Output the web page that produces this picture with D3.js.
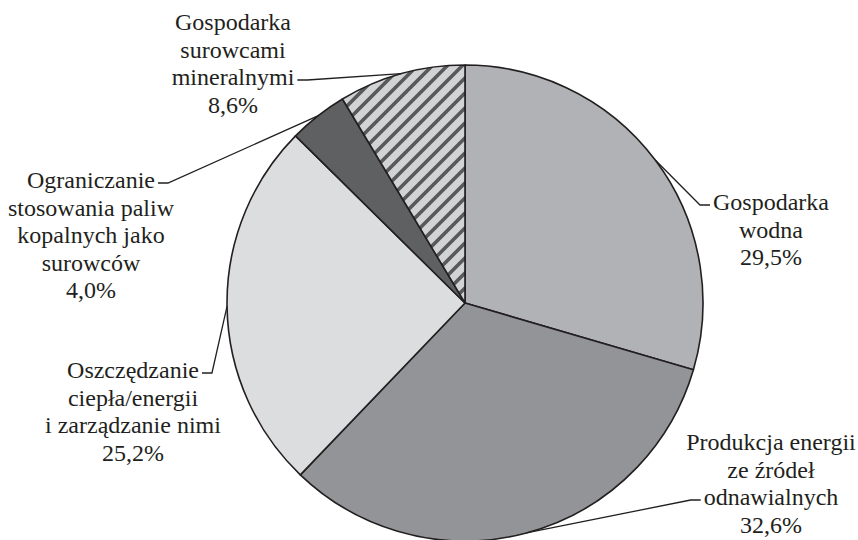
<!DOCTYPE html>
<html>
<head>
<meta charset="utf-8">
<script src="https://cdn.jsdelivr.net/npm/d3@7"></script>
<style>
  html, body { margin: 0; padding: 0; background: #fff; }
  svg text { font-family: "Liberation Serif", "Times New Roman", serif; font-size: 24px; fill: #231f20; }
</style>
</head>
<body>
<svg id="chart" width="858" height="540"></svg>
<script>
'use strict';

// slices, clockwise from 12 o'clock
const categories = [
  'Gospodarka wodna',
  'Produkcja energii ze źródeł odnawialnych',
  'Oszczędzanie ciepła/energii i zarządzanie nimi',
  'Ograniczanie stosowania paliw kopalnych jako surowców',
  'Gospodarka surowcami mineralnymi'
];
const values = [29.5, 32.6, 25.2, 4.0, 8.6];
const valueLabels = ['29,5%', '32,6%', '25,2%', '4,0%', '8,6%'];
const labelLines = [
  ['Gospodarka', 'wodna'],
  ['Produkcja energii', 'ze źródeł', 'odnawialnych'],
  ['Oszczędzanie', 'ciepła/energii', 'i zarządzanie nimi'],
  ['Ograniczanie', 'stosowania paliw', 'kopalnych jako', 'surowców'],
  ['Gospodarka', 'surowcami', 'mineralnymi']
];

const fills = ['#b1b2b5', '#939497', '#dcdddf', '#5f6062', 'url(#hatch)'];

// label placement: text centre x, first baseline y, which line the leader points at, side
const labelPos = [
  { x: 771, y: 210, hook: 0, side: 'left' },
  { x: 771, y: 450, hook: 2, side: 'left' },
  { x: 133, y: 378, hook: 0, side: 'right' },
  { x: 91,  y: 188, hook: 0, side: 'right' },
  { x: 233, y: 30,  hook: 2, side: 'right' }
];

const cx = 465, cy = 303, radius = 238, lineH = 27.5;

const svg = d3.select('#chart');

// diagonal stripes for the small grey slice
const pat = svg.append('defs').append('pattern')
    .attr('id', 'hatch')
    .attr('patternUnits', 'userSpaceOnUse')
    .attr('width', 15)
    .attr('height', 15);
pat.append('rect').attr('width', 15).attr('height', 15).attr('fill', '#d2d3d5');
pat.append('path')
    .attr('d', 'M-4,4 L4,-4 M0,15 L15,0 M11,19 L19,11')
    .attr('stroke', '#58595b')
    .attr('stroke-width', 3.6);

const pie = d3.pie().sort(null).value(d => d);
const arcs = pie(values);
const arc = d3.arc().innerRadius(0).outerRadius(radius);

const g = svg.append('g').attr('transform', `translate(${cx}, ${cy})`);

g.selectAll('path.slice')
  .data(arcs)
  .join('path')
    .attr('class', 'slice')
    .attr('d', arc)
    .attr('fill', (d, i) => fills[i])
    .attr('stroke', '#231f20')
    .attr('stroke-width', 1.6)
    .attr('stroke-linejoin', 'round');

// labels and leader lines
arcs.forEach((a, i) => {
  const p = labelPos[i];
  const lines = labelLines[i].concat([valueLabels[i]]);

  const t = svg.append('text').attr('text-anchor', 'middle');
  lines.forEach((s, k) => {
    t.append('tspan').attr('x', p.x).attr('y', p.y + k * lineH).text(s);
  });

  // width of the hooked line, to find where the leader ends
  const hookSpan = t.selectAll('tspan').nodes()[p.hook];
  const w = hookSpan.getComputedTextLength();
  const ly = p.y + p.hook * lineH - 5;
  const end = p.side === 'left' ? p.x - w / 2 - 3 : p.x + w / 2 + 3;
  const elbow = p.side === 'left' ? end - 10 : end + 10;

  const mid = (a.startAngle + a.endAngle) / 2;
  const px = cx + radius * Math.sin(mid);
  const py = cy - radius * Math.cos(mid);

  svg.append('path')
    .attr('d', d3.line()([[px, py], [elbow, ly], [end, ly]]))
    .attr('fill', 'none')
    .attr('stroke', '#231f20')
    .attr('stroke-width', 1.3);
});
</script>
</body>
</html>
